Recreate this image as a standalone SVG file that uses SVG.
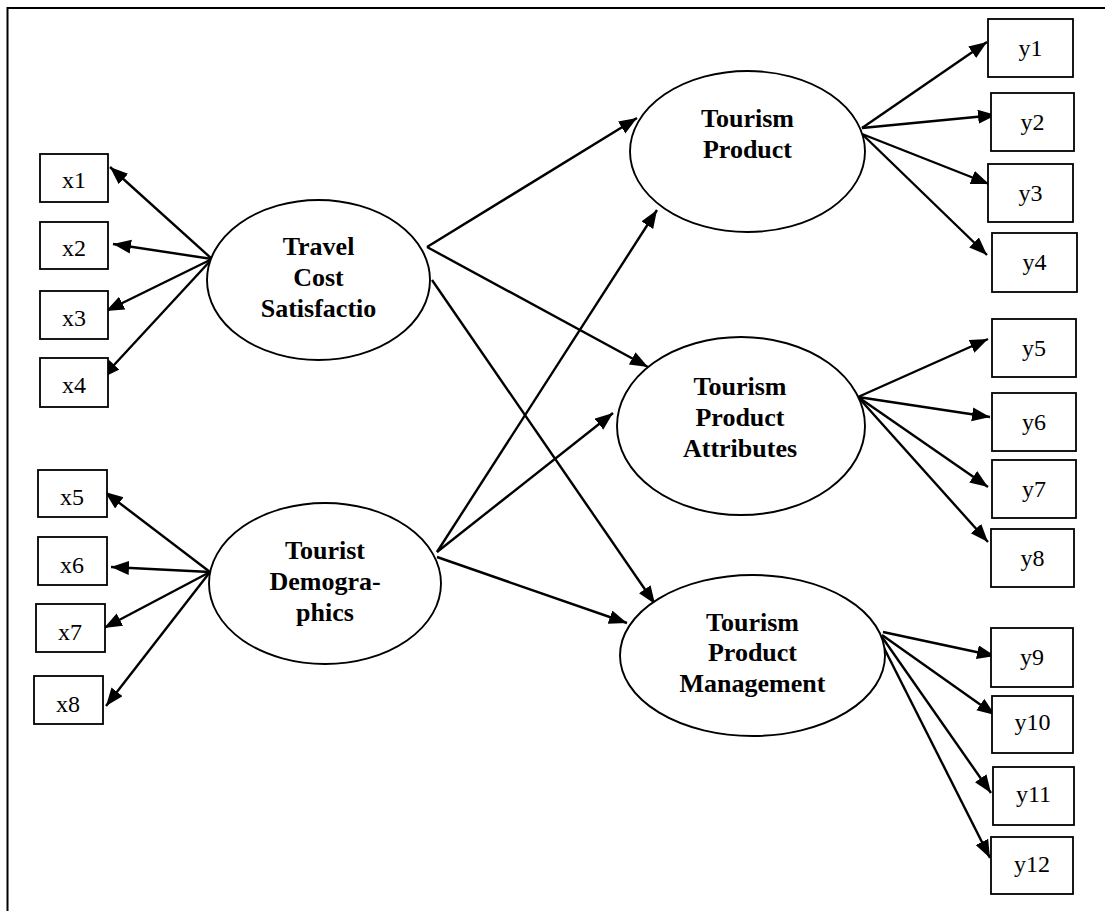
<svg xmlns="http://www.w3.org/2000/svg" width="1105" height="911" viewBox="0 0 1105 911">
<style>
.box{fill:#fff;stroke:#000;stroke-width:1.8}
.ell{fill:#fff;stroke:#000;stroke-width:1.9}
.lbl{font-family:"Liberation Serif",serif;font-size:24px;text-anchor:middle;fill:#000}
.lat{font-family:"Liberation Serif",serif;font-size:26px;font-weight:bold;text-anchor:middle;fill:#000}
.arr{stroke:#000;stroke-width:2.4;fill:none;marker-end:url(#ah)}
</style>
<defs>
<marker id="ah" markerUnits="userSpaceOnUse" markerWidth="19" markerHeight="15" refX="18" refY="7" orient="auto">
<path d="M0,0 L18,7 L0,14 z" fill="#000"/>
</marker>
</defs>
<rect x="7.5" y="8" width="1300" height="1100" fill="none" stroke="#000" stroke-width="2"/>

<g id="connectors">
<line class="arr" x1="212" y1="259" x2="110" y2="167"/>
<line class="arr" x1="212" y1="259" x2="113" y2="244"/>
<line class="arr" x1="212" y1="259" x2="106" y2="311"/>
<line class="arr" x1="212" y1="259" x2="102" y2="378"/>
<line class="arr" x1="210" y1="572" x2="105" y2="492"/>
<line class="arr" x1="210" y1="572" x2="111" y2="567"/>
<line class="arr" x1="210" y1="572" x2="104" y2="628"/>
<line class="arr" x1="210" y1="572" x2="106" y2="706"/>
<line class="arr" x1="427" y1="247" x2="637" y2="118"/>
<line class="arr" x1="427" y1="247" x2="648" y2="367"/>
<line class="arr" x1="432" y1="280" x2="655" y2="604"/>
<line class="arr" x1="437" y1="552" x2="657" y2="210"/>
<line class="arr" x1="437" y1="552" x2="613" y2="413"/>
<line class="arr" x1="437" y1="557" x2="627" y2="623"/>
<line class="arr" x1="862" y1="128" x2="987" y2="42"/>
<line class="arr" x1="862" y1="128" x2="996" y2="115"/>
<line class="arr" x1="862" y1="134" x2="989" y2="184"/>
<line class="arr" x1="862" y1="134" x2="987" y2="255"/>
<line class="arr" x1="858" y1="397" x2="988" y2="339"/>
<line class="arr" x1="858" y1="397" x2="990" y2="417"/>
<line class="arr" x1="858" y1="397" x2="988" y2="487"/>
<line class="arr" x1="858" y1="397" x2="988" y2="542"/>
<line class="arr" x1="883" y1="632" x2="995" y2="656"/>
<line class="arr" x1="882" y1="635" x2="995" y2="715"/>
<line class="arr" x1="882" y1="637" x2="991" y2="793"/>
<line class="arr" x1="880" y1="640" x2="990" y2="858"/>
</g>

<g id="x1"><rect class="box" x="40" y="154" width="68" height="48"/><text class="lbl" x="74" y="188">x1</text></g>
<g id="x2"><rect class="box" x="40" y="222" width="68" height="47"/><text class="lbl" x="74" y="256">x2</text></g>
<g id="x3"><rect class="box" x="40" y="291" width="68" height="48"/><text class="lbl" x="74" y="326">x3</text></g>
<g id="x4"><rect class="box" x="40" y="358" width="68" height="49"/><text class="lbl" x="74" y="393">x4</text></g>
<g id="x5"><rect class="box" x="38" y="470" width="69" height="47"/><text class="lbl" x="72" y="505">x5</text></g>
<g id="x6"><rect class="box" x="38" y="537" width="69" height="48"/><text class="lbl" x="72" y="573">x6</text></g>
<g id="x7"><rect class="box" x="36" y="604" width="69" height="48"/><text class="lbl" x="70" y="640">x7</text></g>
<g id="x8"><rect class="box" x="34" y="676" width="69" height="48"/><text class="lbl" x="68" y="712">x8</text></g>

<g id="travel-cost"><ellipse class="ell" cx="318.5" cy="280" rx="111.5" ry="80"/>
<text class="lat" x="318.5" y="255">Travel</text><text class="lat" x="318.5" y="286">Cost</text><text class="lat" x="318.5" y="317">Satisfactio</text></g>
<g id="tourist-demographics"><ellipse class="ell" cx="325" cy="583.5" rx="116" ry="80.5"/>
<text class="lat" x="325" y="559">Tourist</text><text class="lat" x="325" y="590">Demogra-</text><text class="lat" x="325" y="621">phics</text></g>

<g id="tourism-product"><ellipse class="ell" cx="747.5" cy="151.5" rx="117.5" ry="80.5"/>
<text class="lat" x="747.5" y="127">Tourism</text><text class="lat" x="747.5" y="158">Product</text></g>
<g id="tourism-product-attributes"><ellipse class="ell" cx="741" cy="426" rx="124" ry="89"/>
<text class="lat" x="740" y="395">Tourism</text><text class="lat" x="740" y="426">Product</text><text class="lat" x="740" y="457">Attributes</text></g>
<g id="tourism-product-management"><ellipse class="ell" cx="752.5" cy="655.5" rx="132.5" ry="80.5"/>
<text class="lat" x="752.5" y="631">Tourism</text><text class="lat" x="752.5" y="661">Product</text><text class="lat" x="752.5" y="692">Management</text></g>

<g id="y1"><rect class="box" x="988" y="19" width="85" height="58"/><text class="lbl" x="1030.5" y="56">y1</text></g>
<g id="y2"><rect class="box" x="991" y="93" width="83" height="58"/><text class="lbl" x="1032.5" y="130">y2</text></g>
<g id="y3"><rect class="box" x="988" y="164" width="85" height="58"/><text class="lbl" x="1030.5" y="201">y3</text></g>
<g id="y4"><rect class="box" x="992" y="233" width="85" height="59"/><text class="lbl" x="1034.5" y="270">y4</text></g>
<g id="y5"><rect class="box" x="992" y="319" width="84" height="58"/><text class="lbl" x="1034" y="356">y5</text></g>
<g id="y6"><rect class="box" x="992" y="393" width="84" height="58"/><text class="lbl" x="1034" y="430">y6</text></g>
<g id="y7"><rect class="box" x="992" y="460" width="84" height="58"/><text class="lbl" x="1034" y="497">y7</text></g>
<g id="y8"><rect class="box" x="991" y="529" width="83" height="58"/><text class="lbl" x="1032.5" y="566">y8</text></g>
<g id="y9"><rect class="box" x="991" y="628" width="82" height="59"/><text class="lbl" x="1032" y="665">y9</text></g>
<g id="y10"><rect class="box" x="992" y="696" width="81" height="57"/><text class="lbl" x="1032.5" y="730">y10</text></g>
<g id="y11"><rect class="box" x="993" y="767" width="81" height="58"/><text class="lbl" x="1033.5" y="802">y11</text></g>
<g id="y12"><rect class="box" x="991" y="837" width="82" height="57"/><text class="lbl" x="1032" y="872">y12</text></g>
</svg>
